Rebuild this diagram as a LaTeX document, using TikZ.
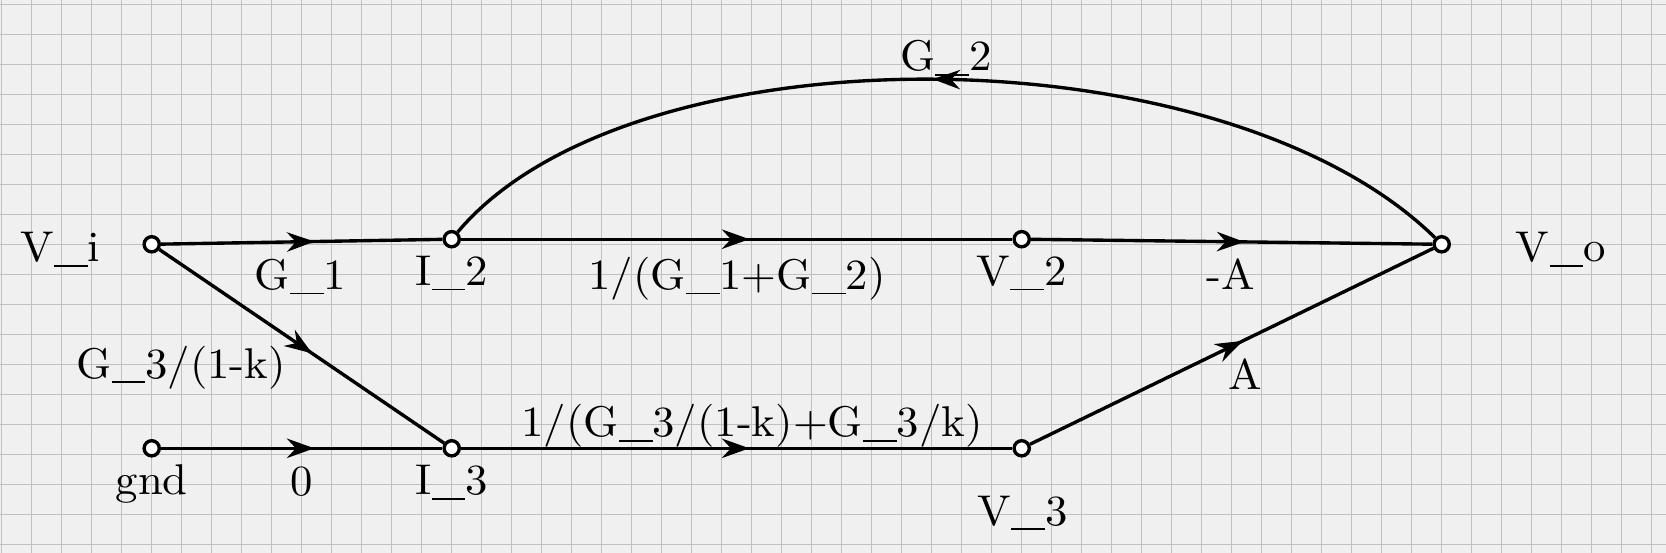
\documentclass[tikz,border=0pt]{standalone}
\usepackage{fontspec}
\setmainfont{lmroman10-regular.otf}[FakeStretch=1.04]
\usetikzlibrary{arrows.meta, decorations.markings}
\definecolor{paper}{HTML}{F0F0F0}
\definecolor{gridln}{HTML}{C0C0C0}
\newcommand{\usc}{\rule[-1.2pt]{4pt}{0.4pt}}
\tikzset{
  >={Stealth[length=6.5pt, width=4.6pt]},
  %
  sig/.style={circle, draw=black, fill=white, line width=0.8pt,
              minimum size=3.6pt, inner sep=0pt},
  branch/.style={draw=black, line width=0.8pt, postaction={decorate},
    decoration={markings, mark=at position 0.5 with {\arrow[xshift=3pt]{>}}}},
  %
  lbl/.style={anchor=base, inner sep=0pt, font=\fontsize{10.2pt}{12pt}\selectfont},
  gridline/.style={draw=gridln, line width=0.3pt},
}
\begin{document}
\begin{tikzpicture}[x=0.25cm, y=0.25cm]

  % paper with grid
  \fill[paper] (-0.057,0.143) rectangle (55.477,-18.29);
  \useasboundingbox (-0.057,0.143) rectangle (55.477,-18.29);
  \foreach \i in {0,...,55}
    \draw[gridline] (\i,0.143) -- (\i,-18.29);
  \foreach \j in {0,...,18}
    \draw[gridline] (-0.057,-\j) -- (55.477,-\j);

  % signals
  \node[sig] (Vi)  at (5,-8)     {};
  \node[sig] (I2)  at (15,-7.83) {};
  \node[sig] (V2)  at (34,-7.83) {};
  \node[sig] (Vo)  at (48,-8)    {};
  \node[sig] (gnd) at (5,-14.8)  {};
  \node[sig] (I3)  at (15,-14.8) {};
  \node[sig] (V3)  at (34,-14.8) {};

  % branches
  \draw[branch] (Vi) -- (I2);
  \draw[branch] (I2) -- (V2);
  \draw[branch] (V2) -- (Vo);
  \draw[branch] (Vi) -- (I3);
  \draw[branch] (gnd) -- (I3);
  \draw[branch] (I3) -- (V3);
  \draw[branch] (V3) -- (Vo);
  \draw[branch] (Vo) .. controls (40.7,-0.83) and (21,-0.70) .. (I2);

  % signal names
  \node[lbl] (nVi)  at (1.96,-8.58)  {V\usc\usc i};
  \node[lbl] (nVo)  at (51.97,-8.58) {V\usc\usc o};
  \node[lbl] (nI2)  at (15,-9.37)    {I\usc\usc 2};
  \node[lbl] (nV2)  at (34,-9.37)    {V\usc\usc 2};
  \node[lbl] (ngnd) at (5,-16.34)    {gnd};
  \node[lbl] (nI3)  at (15,-16.34)   {I\usc\usc 3};
  \node[lbl] (nV3)  at (34.03,-17.36) {V\usc\usc 3};

  % gains
  \node[lbl] (gG1)  at (9.96,-9.5)   {G\usc\usc 1};
  \node[lbl] (gI2)  at (24.51,-9.5)  {1/(G\usc\usc 1+G\usc\usc 2)};
  \node[lbl] (gmA)  at (40.97,-9.5)  {-A};
  \node[lbl] (gG2)  at (31.47,-2.21) {G\usc\usc 2};
  \node[lbl] (gG3)  at (5.98,-12.46) {G\usc\usc 3/(1-k)};
  \node[lbl] (gnil) at (10,-16.39)   {0};
  \node[lbl] (gI3)  at (25.01,-14.42) {1/(G\usc\usc 3/(1-k)+G\usc\usc 3/k)};
  \node[lbl] (gA)   at (41.44,-12.84) {A};

\end{tikzpicture}
\end{document}
